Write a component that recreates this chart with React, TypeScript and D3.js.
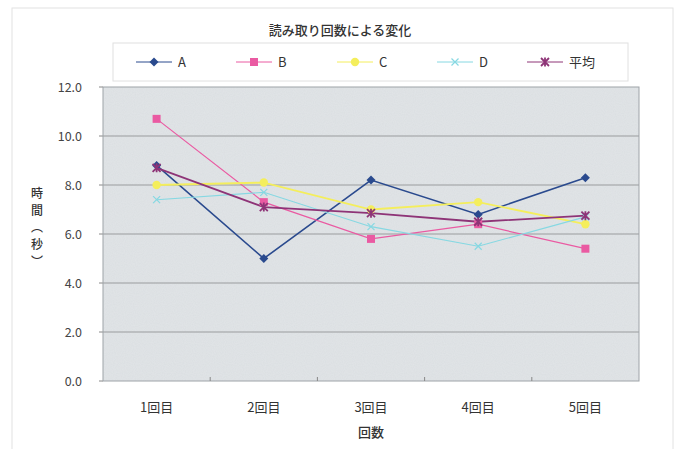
import React from "react";
import * as d3 from "d3";

const categories = ["1回目", "2回目", "3回目", "4回目", "5回目"];
const seriesNames = ["A", "B", "C", "D", "平均"];
const valuesA = [8.8, 5.0, 8.2, 6.8, 8.3];
const valuesB = [10.7, 7.3, 5.8, 6.4, 5.4];
const valuesC = [8.0, 8.1, 7.0, 7.3, 6.4];
const valuesD = [7.4, 7.7, 6.3, 5.5, 6.7];
const valuesAvg = [8.7, 7.1, 6.85, 6.5, 6.75];
const yTicks = [0, 2, 4, 6, 8, 10, 12];

const colors = ["#2a4a8e", "#ea5aa2", "#f4ee5c", "#86d8e2", "#8e3477"];
const widths = [1.6, 1.2, 1.8, 1.1, 1.8];
const markers = ["diamond", "square", "circle", "x", "star"];

const FONT = "'Noto Sans CJK JP', 'Noto Sans', sans-serif";

function Marker({ type, x, y, color }: { type: string; x: number; y: number; color: string }) {
  if (type === "diamond") {
    const s = 4.5;
    return <path d={`M${x},${y - s}L${x + s},${y}L${x},${y + s}L${x - s},${y}Z`} fill={color} />;
  }
  if (type === "square") {
    return <rect x={x - 4} y={y - 4} width={8} height={8} fill={color} />;
  }
  if (type === "circle") {
    return <circle cx={x} cy={y} r={4.2} fill={color} />;
  }
  if (type === "x") {
    const s = 3.5;
    return (
      <path d={`M${x - s},${y - s}L${x + s},${y + s}M${x - s},${y + s}L${x + s},${y - s}`} stroke={color} strokeWidth={1.2} />
    );
  }
  const s = 4;
  return (
    <path
      d={`M${x - s},${y - s}L${x + s},${y + s}M${x - s},${y + s}L${x + s},${y - s}M${x},${y - s - 0.5}L${x},${y + s + 0.5}`}
      stroke={color}
      strokeWidth={1.8}
    />
  );
}

export default function App() {
  const W = 677, H = 449;
  const left = 103, right = 639, top = 87, bottom = 381;
  const x = d3.scaleBand<string>().domain(categories).range([left, right]);
  const y = d3.scaleLinear().domain([0, 12]).range([bottom, top]);
  const all = [valuesA, valuesB, valuesC, valuesD, valuesAvg];
  const line = d3
    .line<number>()
    .x((_, i) => (x(categories[i]) as number) + x.bandwidth() / 2)
    .y((v) => y(v));

  const legendX = [154, 254, 355, 455, 545];
  const legendY = 62;
  const yTitle = ["時", "間", "︵", "秒", "︶"];

  return (
    <svg width={W} height={H} style={{ position: "absolute", left: 0, top: 0, background: "#fff" }}>
      <defs>
        <filter id="noise" x="0" y="0" width="100%" height="100%">
          <feTurbulence type="fractalNoise" baseFrequency="0.9" numOctaves={1} seed={3} result="n" />
          <feColorMatrix type="matrix" values="0 0 0 0 0.95  0 0 0 0 0.96  0 0 0 0 0.97  0 0 0 0.5 0" />
          <feComposite in2="SourceGraphic" operator="in" />
        </filter>
      </defs>
      <rect x={12} y={8} width={661} height={460} fill="#fff" stroke="#e2e2e2" strokeWidth={1} />
      <text x={340} y={35} textAnchor="middle" fontFamily={FONT} fontSize={13} fill="#333" fontWeight={500}>
        読み取り回数による変化
      </text>
      <rect x={113} y={43} width={515} height={38} fill="#fff" stroke="#e0e0e0" strokeWidth={1} />
      {seriesNames.map((n, i) => (
        <g key={n}>
          <line x1={legendX[i] - 18} x2={legendX[i] + 18} y1={legendY} y2={legendY} stroke={colors[i]} strokeWidth={1} />
          <Marker type={markers[i]} x={legendX[i]} y={legendY} color={colors[i]} />
          <text x={legendX[i] + 24} y={legendY + 5} fontFamily={FONT} fontSize={13} fill="#333">
            {n}
          </text>
        </g>
      ))}
      <rect x={left} y={top} width={right - left} height={bottom - top} fill="#dadee1" />
      <rect x={left} y={top} width={right - left} height={bottom - top} fill="#fff" filter="url(#noise)" opacity={0.5} />
      {yTicks.map((t) => (
        <g key={t}>
          {t > 0 && t < 12 && <line x1={left} x2={right} y1={y(t)} y2={y(t)} stroke="#9a9c9e" strokeWidth={1.2} />}
          <line x1={left - 4} x2={left} y1={y(t)} y2={y(t)} stroke="#888" />
          <text x={left - 21} y={y(t) + 4.5} textAnchor="end" fontFamily={FONT} fontSize={12.5} fill="#444">
            {d3.format(".1f")(t)}
          </text>
        </g>
      ))}
      <rect x={left} y={top} width={right - left} height={bottom - top} fill="none" stroke="#9ea3a8" strokeWidth={1} />
      {categories.map((c, i) => (
        <g key={c}>
          {i > 0 && <line x1={x(c)} x2={x(c)} y1={bottom} y2={bottom - 4} stroke="#888" />}
          <text
            x={(x(c) as number) + x.bandwidth() / 2}
            y={bottom + 31}
            textAnchor="middle"
            fontFamily={FONT}
            fontSize={13}
            fill="#333"
          >
            {c}
          </text>
        </g>
      ))}
      {all.map((vals, si) => (
        <path key={si} d={line(vals) as string} fill="none" stroke={colors[si]} strokeWidth={widths[si]} />
      ))}
      {all.map((vals, si) =>
        vals.map((v, i) => (
          <Marker
            key={`${si}-${i}`}
            type={markers[si]}
            x={(x(categories[i]) as number) + x.bandwidth() / 2}
            y={y(v)}
            color={colors[si]}
          />
        ))
      )}
      <text x={371} y={437} textAnchor="middle" fontFamily={FONT} fontSize={13} fill="#333" fontWeight={500}>
        回数
      </text>
      {yTitle.map((ch, i) => (
        <text key={i} x={37} y={198 + i * 17} textAnchor="middle" fontFamily={FONT} fontSize={12} fill="#333" fontWeight={500}>
          {ch}
        </text>
      ))}
    </svg>
  );
}
